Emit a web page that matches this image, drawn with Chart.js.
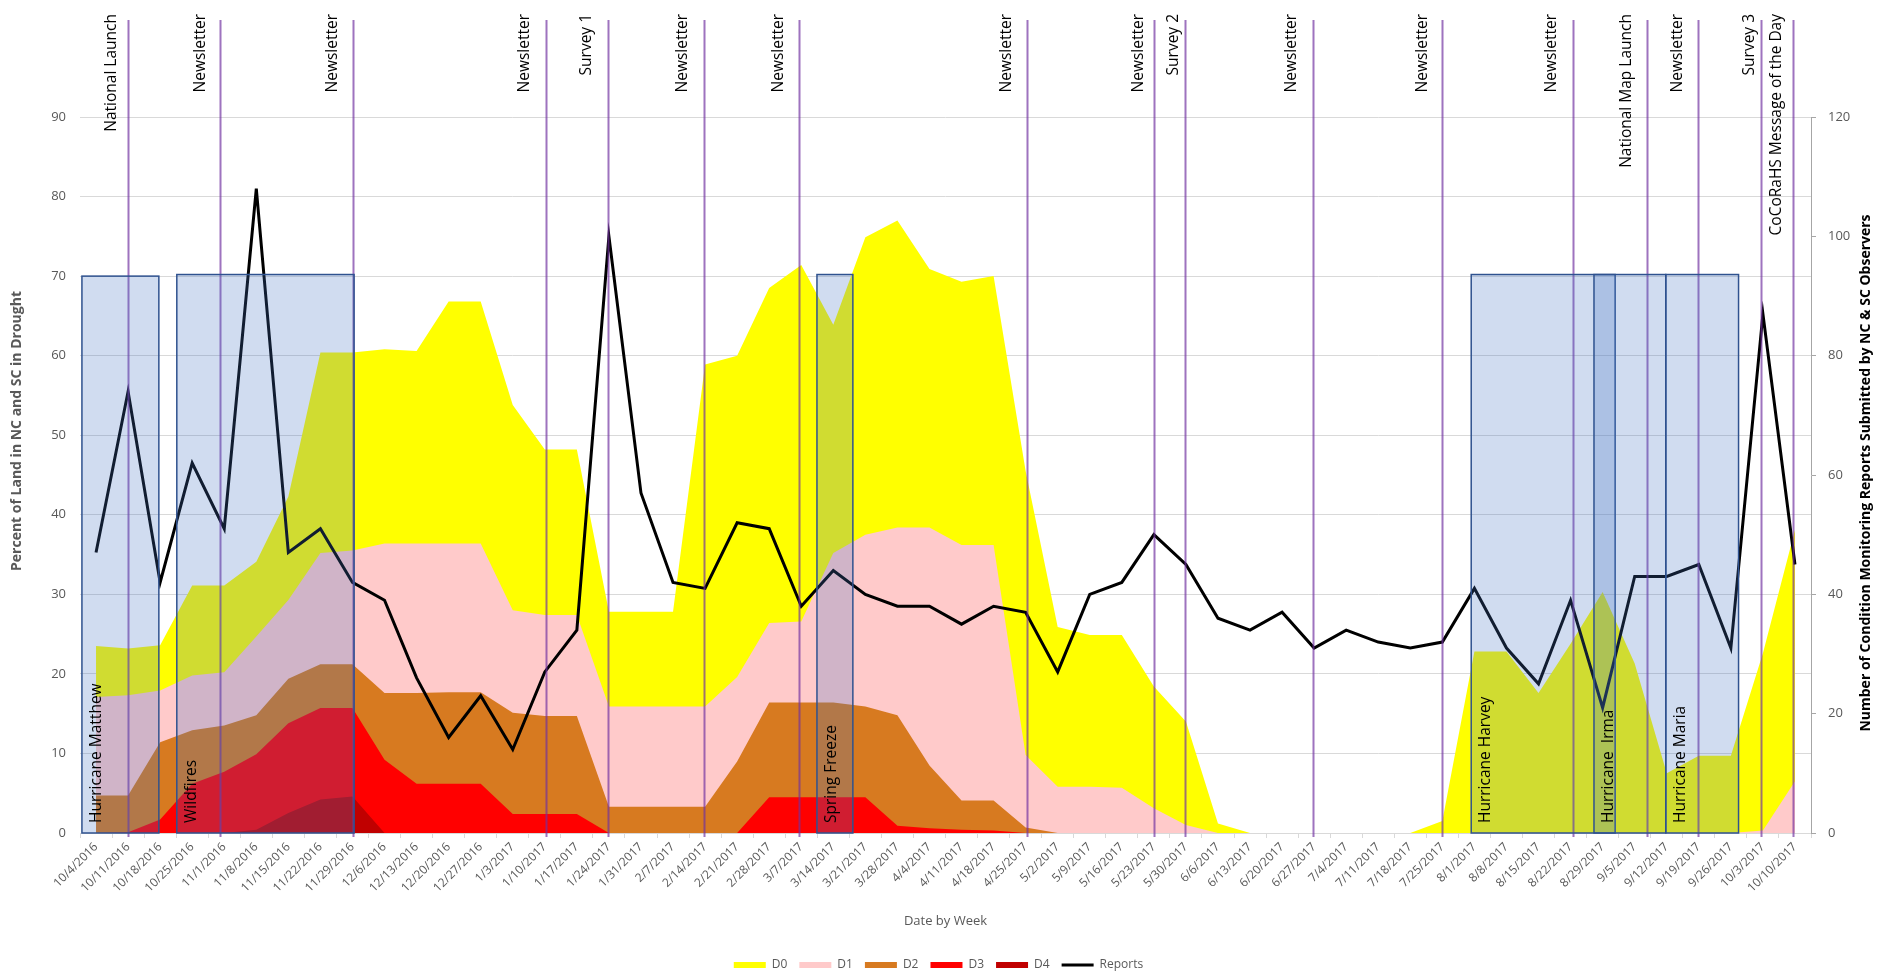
<!DOCTYPE html>
<html>
<head>
<meta charset="utf-8">
<title>Drought in NC and SC vs Condition Monitoring Reports</title>
<script src="https://cdn.jsdelivr.net/npm/chart.js@4.4.1/dist/chart.umd.min.js"></script>
<style>
    html, body { margin: 0; padding: 0; background: #ffffff; overflow: hidden; }
    #wrap { position: relative; width: 1877px; height: 981px; }
</style>
</head>
<body>
<div id="wrap"><canvas id="chartDrought"></canvas></div>
<script>
/**
 * Drought (D0-D4, % of land) + weekly condition monitoring reports
 */

// Weeks (x categories)
const weeks = [
    '10/4/2016', '10/11/2016', '10/18/2016', '10/25/2016', '11/1/2016', '11/8/2016', '11/15/2016',
    '11/22/2016', '11/29/2016', '12/6/2016', '12/13/2016', '12/20/2016', '12/27/2016', '1/3/2017',
    '1/10/2017', '1/17/2017', '1/24/2017', '1/31/2017', '2/7/2017', '2/14/2017', '2/21/2017',
    '2/28/2017', '3/7/2017', '3/14/2017', '3/21/2017', '3/28/2017', '4/4/2017', '4/11/2017',
    '4/18/2017', '4/25/2017', '5/2/2017', '5/9/2017', '5/16/2017', '5/23/2017', '5/30/2017',
    '6/6/2017', '6/13/2017', '6/20/2017', '6/27/2017', '7/4/2017', '7/11/2017', '7/18/2017',
    '7/25/2017', '8/1/2017', '8/8/2017', '8/15/2017', '8/22/2017', '8/29/2017', '9/5/2017',
    '9/12/2017', '9/19/2017', '9/26/2017', '10/3/2017', '10/10/2017'
];

// Percent of land in drought, each category measured from 0 (not stacked)
const d0 = [
    23.5, 23.2, 23.6, 31.1, 31.1, 34.1, 42.3, 60.4, 60.4, 60.8, 60.6, 66.8, 66.8, 53.8,
    48.2, 48.2, 27.8, 27.8, 27.8, 58.9, 60.0, 68.5, 71.4, 63.9, 74.9, 77.0, 70.9, 69.3,
    70.0, 45.5, 25.9, 24.9, 24.9, 18.4, 14.0, 1.2, 0, 0, 0, 0, 0, 0,
    1.5, 22.8, 22.8, 17.6, 23.8, 30.3, 21.3, 7.5, 9.7, 9.7, 22.6, 38.1
];
const d1 = [
    17.1, 17.3, 17.9, 19.8, 20.2, 24.7, 29.3, 35.2, 35.5, 36.4, 36.4, 36.4, 36.4, 28.0,
    27.4, 27.4, 15.9, 15.9, 15.9, 15.9, 19.6, 26.4, 26.6, 35.2, 37.5, 38.4, 38.4, 36.2,
    36.2, 9.8, 5.8, 5.8, 5.7, 3.1, 1.0, 0, 0, 0, 0, 0, 0, 0,
    0, 0, 0, 0, 0, 0, 0, 0, 0, 0, 0.3, 6.5
];
const d2 = [
    4.7, 4.7, 11.4, 12.9, 13.5, 14.8, 19.4, 21.2, 21.2, 17.6, 17.6, 17.7, 17.7, 15.1,
    14.7, 14.7, 3.3, 3.3, 3.3, 3.3, 9.0, 16.4, 16.4, 16.4, 15.9, 14.8, 8.5, 4.1,
    4.1, 0.7, 0, 0, 0, 0, 0, 0, 0, 0, 0, 0, 0, 0,
    0, 0, 0, 0, 0, 0, 0, 0, 0, 0, 0, 0
];
const d3 = [
    0, 0.1, 1.7, 6.2, 7.7, 9.9, 13.8, 15.7, 15.7, 9.2, 6.2, 6.2, 6.2, 2.4,
    2.4, 2.4, 0, 0, 0, 0, 0, 4.5, 4.5, 4.5, 4.5, 0.9, 0.6, 0.4,
    0.3, 0, 0, 0, 0, 0, 0, 0, 0, 0, 0, 0, 0, 0,
    0, 0, 0, 0, 0, 0, 0, 0, 0, 0, 0, 0
];
const d4 = [
    0, 0, 0, 0, 0, 0.4, 2.5, 4.2, 4.6, 0, 0, 0, 0, 0,
    0, 0, 0, 0, 0, 0, 0, 0, 0, 0, 0, 0, 0, 0,
    0, 0, 0, 0, 0, 0, 0, 0, 0, 0, 0, 0, 0, 0,
    0, 0, 0, 0, 0, 0, 0, 0, 0, 0, 0, 0
];

// Reports submitted per week (right axis)
const reports = [
    47, 74, 42, 62, 51, 108, 47, 51, 42, 39, 26, 16, 23, 14,
    27, 34, 100, 57, 42, 41, 52, 51, 38, 44, 40, 38, 38, 35,
    38, 37, 27, 40, 42, 50, 45, 36, 34, 37, 31, 34, 32, 31,
    32, 41, 31, 25, 39, 21, 43, 43, 45, 31, 87, 45
];

// Axis ticks
const leftTicks = [0, 10, 20, 30, 40, 50, 60, 70, 80, 90];
const rightTicks = [0, 20, 40, 60, 80, 100, 120];

// Outreach events (vertical lines), position in week index
const eventWeek = [0.99, 3.87, 8.02, 14.04, 15.96, 18.96, 21.93, 29.03, 32.99, 33.97,
    37.98, 41.98, 46.06, 48.37, 49.96, 51.93, 52.94];
const eventLabels = ['National Launch', 'Newsletter', 'Newsletter', 'Newsletter', 'Survey 1',
    'Newsletter', 'Newsletter', 'Newsletter', 'Newsletter', 'Survey 2', 'Newsletter',
    'Newsletter', 'Newsletter', 'National Map Launch', 'Newsletter', 'Survey 3',
    'CoCoRaHS Message of the Day'];
const eventLabelGap = [17, 20, 21, 22, 22, 22, 21, 21, 16, 12, 22, 20, 22, 21, 21, 12, 17];

// Weather periods (shaded boxes), in week index
const periodStart = [-0.44, 2.52, 22.49, 42.90, 46.73, 48.97];
const periodEnd = [1.96, 8.05, 23.61, 47.39, 48.97, 51.24];
const periodTop = [70, 70.2, 70.2, 70.2, 70.2, 70.2];
const periodLabels = ['Hurricane Matthew', 'Wildfires', 'Spring Freeze',
    'Hurricane Harvey', 'Hurricane  Irma', 'Hurricane Maria'];

const FONT = '"Open Sans", "Liberation Sans", sans-serif';
const GREY = '#595959';

/**
 * Event lines, shaded periods and custom axis titles
 */
const annotationsPlugin = {
    id: 'annotations',
    afterDatasetsDraw(chart) {
        const { ctx, chartArea } = chart;
        const x = chart.scales.x;
        const y = chart.scales.y;
        const base = y.getPixelForValue(0);

        ctx.save();

        // Event lines + labels above the plot
        ctx.font = '15.5px ' + FONT;
        ctx.fillStyle = '#000000';
        eventWeek.forEach((w, i) => {
            const px = Math.round(x.getPixelForValue(w)) + 0.5;
            ctx.strokeStyle = 'rgba(112, 48, 160, 0.68)';
            ctx.lineWidth = 2;
            ctx.beginPath();
            ctx.moveTo(px, 20);
            ctx.lineTo(px, chartArea.bottom + 4);
            ctx.stroke();

            ctx.save();
            ctx.translate(px - eventLabelGap[i], 14);
            ctx.rotate(-Math.PI / 2);
            ctx.textAlign = 'right';
            ctx.textBaseline = 'middle';
            ctx.fillText(eventLabels[i], 0, 0);
            ctx.restore();
        });

        // Shaded periods
        periodStart.forEach((s, i) => {
            const x0 = x.getPixelForValue(s);
            const x1 = x.getPixelForValue(periodEnd[i]);
            const yTop = y.getPixelForValue(periodTop[i]);
            ctx.fillStyle = 'rgba(68, 114, 196, 0.25)';
            ctx.fillRect(x0, yTop, x1 - x0, base - yTop);
            ctx.strokeStyle = '#2F528F';
            ctx.lineWidth = 1.5;
            ctx.strokeRect(x0, yTop, x1 - x0, base - yTop);
        });

        // Period labels
        ctx.fillStyle = '#000000';
        periodStart.forEach((s, i) => {
            const x0 = x.getPixelForValue(s);
            ctx.save();
            ctx.translate(x0 + 14.5, base - 10);
            ctx.rotate(-Math.PI / 2);
            ctx.textAlign = 'left';
            ctx.textBaseline = 'middle';
            ctx.fillText(periodLabels[i], 0, 0);
            ctx.restore();
        });

        ctx.restore();
    },
    afterDraw(chart) {
        const { ctx } = chart;
        ctx.save();

        // Left axis title
        ctx.font = 'bold 14px ' + FONT;
        ctx.fillStyle = GREY;
        ctx.textAlign = 'center';
        ctx.textBaseline = 'middle';
        ctx.translate(17, 431);
        ctx.rotate(-Math.PI / 2);
        ctx.fillText('Percent of Land in NC and SC in Drought', 0, 0);
        ctx.restore();

        // Right axis title
        ctx.save();
        ctx.font = 'bold 14px ' + FONT;
        ctx.fillStyle = '#000000';
        ctx.textAlign = 'center';
        ctx.textBaseline = 'middle';
        ctx.translate(1866, 473);
        ctx.rotate(-Math.PI / 2);
        ctx.fillText('Number of Condition Monitoring Reports Submitted by NC & SC Observers', 0, 0);
        ctx.restore();

        // X axis title
        ctx.save();
        ctx.font = '13px ' + FONT;
        ctx.fillStyle = GREY;
        ctx.textAlign = 'center';
        ctx.textBaseline = 'middle';
        ctx.fillText('Date by Week', (chart.chartArea.left + chart.chartArea.right) / 2, 921);
        ctx.restore();
    }
};

function areaDataset(label, data, color, order) {
    return {
        type: 'line',
        label: label,
        data: data,
        yAxisID: 'y',
        backgroundColor: color,
        borderColor: 'rgba(0,0,0,0)',
        borderWidth: 0,
        pointRadius: 0,
        pointStyle: 'rect',
        fill: 'origin',
        tension: 0,
        order: order
    };
}

function drawChart() {
    const ctx = document.getElementById('chartDrought').getContext('2d');
    Chart.defaults.font.family = FONT;

    new Chart(ctx, {
        type: 'line',
        data: {
            labels: weeks,
            datasets: [
                areaDataset('D0', d0, '#FFFF00', 6),
                areaDataset('D1', d1, '#FFCACA', 5),
                areaDataset('D2', d2, '#D77A20', 4),
                areaDataset('D3', d3, '#FF0000', 3),
                areaDataset('D4', d4, '#C00000', 2),
                {
                    type: 'line',
                    label: 'Reports',
                    data: reports,
                    yAxisID: 'y2',
                    borderColor: '#000000',
                    backgroundColor: '#000000',
                    borderWidth: 3,
                    pointRadius: 0,
                    pointStyle: 'line',
                    fill: false,
                    tension: 0,
                    order: 1
                }
            ]
        },
        options: {
            responsive: true,
            maintainAspectRatio: false,
            animation: false,
            layout: { padding: { top: 117, left: 0, right: 0, bottom: 0 } },
            scales: {
                x: {
                    type: 'category',
                    offset: true,
                    grid: { offset: true, drawOnChartArea: false, tickLength: 5, color: '#D9D9D9' },
                    border: { display: true, color: '#D9D9D9' },
                    ticks: {
                        autoSkip: false,
                        maxRotation: 45,
                        minRotation: 45,
                        padding: 2,
                        color: GREY,
                        font: { size: 12 }
                    },
                    afterFit: (scale) => { scale.height = 114; }
                },
                y: {
                    position: 'left',
                    min: 0,
                    max: 90,
                    afterBuildTicks: (scale) => { scale.ticks = leftTicks.map(v => ({ value: v })); },
                    grid: { color: '#D9D9D9', drawTicks: false },
                    border: { display: false },
                    ticks: { padding: 14, color: GREY, font: { size: 13 } },
                    afterFit: (scale) => { scale.width = 80; }
                },
                y2: {
                    position: 'right',
                    min: 0,
                    max: 120,
                    afterBuildTicks: (scale) => { scale.ticks = rightTicks.map(v => ({ value: v })); },
                    grid: { drawOnChartArea: false, tickLength: 5, color: '#A6A6A6' },
                    border: { display: true, color: '#A6A6A6' },
                    ticks: { padding: 12, color: GREY, font: { size: 13 } },
                    afterFit: (scale) => { scale.width = 66; }
                }
            },
            plugins: {
                legend: {
                    position: 'bottom',
                    labels: {
                        usePointStyle: true,
                        pointStyleWidth: 32,
                        boxHeight: 6,
                        padding: 12,
                        color: GREY,
                        font: { size: 12 },
                        sort: (a, b) => a.datasetIndex - b.datasetIndex
                    }
                },
                tooltip: { enabled: false }
            }
        },
        plugins: [annotationsPlugin]
    });
}

drawChart();
</script>
</body>
</html>
